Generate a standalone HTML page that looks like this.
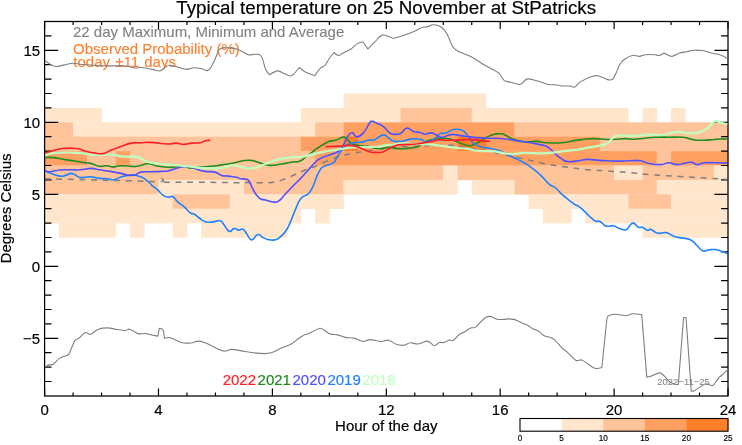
<!DOCTYPE html>
<html><head><meta charset="utf-8"><title>Typical temperature</title>
<style>html,body{margin:0;padding:0;background:#fff;overflow:hidden}body{width:742px;height:445px;position:relative;font-family:"Liberation Sans",sans-serif}</style></head>
<body>
<svg width="742" height="445" viewBox="0 0 742 445" style="display:block;position:absolute;left:0;top:0;will-change:transform" font-family="Liberation Sans, sans-serif">
<rect x="0" y="0" width="742" height="445" fill="#fff"/>
<g>
<rect x="343.59" y="93.50" width="142.68" height="14.70" fill="#FFE6CC"/>
<rect x="44.60" y="107.90" width="57.25" height="14.70" fill="#FFE6CC"/>
<rect x="300.88" y="107.90" width="99.96" height="14.70" fill="#FFE6CC"/>
<rect x="400.54" y="107.90" width="71.49" height="14.70" fill="#FFC499"/>
<rect x="471.72" y="107.90" width="156.91" height="14.70" fill="#FFE6CC"/>
<rect x="642.57" y="107.90" width="14.54" height="14.70" fill="#FFE6CC"/>
<rect x="671.05" y="107.90" width="14.54" height="14.70" fill="#FFE6CC"/>
<rect x="44.60" y="122.30" width="28.77" height="14.70" fill="#FFC499"/>
<rect x="73.08" y="122.30" width="242.34" height="14.70" fill="#FFE6CC"/>
<rect x="315.11" y="122.30" width="28.77" height="14.70" fill="#FFC499"/>
<rect x="343.59" y="122.30" width="171.15" height="14.70" fill="#FFA062"/>
<rect x="514.44" y="122.30" width="213.86" height="14.70" fill="#FFC499"/>
<rect x="44.60" y="136.70" width="256.57" height="14.70" fill="#FFC499"/>
<rect x="300.88" y="136.70" width="43.01" height="14.70" fill="#FFA062"/>
<rect x="343.59" y="136.70" width="14.54" height="14.70" fill="#FF7F2A"/>
<rect x="357.82" y="136.70" width="99.96" height="14.70" fill="#FFA062"/>
<rect x="457.49" y="136.70" width="28.77" height="14.70" fill="#FF7F2A"/>
<rect x="485.96" y="136.70" width="114.20" height="14.70" fill="#FFA062"/>
<rect x="599.86" y="136.70" width="128.44" height="14.70" fill="#FFC499"/>
<rect x="44.60" y="151.10" width="43.01" height="14.70" fill="#FFA062"/>
<rect x="87.31" y="151.10" width="28.77" height="14.70" fill="#FFC499"/>
<rect x="115.79" y="151.10" width="14.54" height="14.70" fill="#FFA062"/>
<rect x="130.03" y="151.10" width="185.39" height="14.70" fill="#FFC499"/>
<rect x="315.11" y="151.10" width="342.00" height="14.70" fill="#FFA062"/>
<rect x="656.81" y="151.10" width="14.54" height="14.70" fill="#FFC499"/>
<rect x="671.05" y="151.10" width="57.25" height="14.70" fill="#FFA062"/>
<rect x="44.60" y="165.50" width="398.95" height="14.70" fill="#FFC499"/>
<rect x="443.25" y="165.50" width="14.54" height="14.70" fill="#FFE6CC"/>
<rect x="457.49" y="165.50" width="156.91" height="14.70" fill="#FFC499"/>
<rect x="614.10" y="165.50" width="28.77" height="14.70" fill="#FFE6CC"/>
<rect x="642.57" y="165.50" width="71.49" height="14.70" fill="#FFC499"/>
<rect x="713.76" y="165.50" width="14.54" height="14.70" fill="#FFE6CC"/>
<rect x="44.60" y="179.90" width="114.20" height="14.70" fill="#FFC499"/>
<rect x="158.50" y="179.90" width="85.72" height="14.70" fill="#FFE6CC"/>
<rect x="243.92" y="179.90" width="99.96" height="14.70" fill="#FFC499"/>
<rect x="343.59" y="179.90" width="114.20" height="14.70" fill="#FFE6CC"/>
<rect x="471.72" y="179.90" width="43.01" height="14.70" fill="#FFE6CC"/>
<rect x="514.44" y="179.90" width="142.68" height="14.70" fill="#FFC499"/>
<rect x="656.81" y="179.90" width="71.49" height="14.70" fill="#FFE6CC"/>
<rect x="44.60" y="194.30" width="128.44" height="14.70" fill="#FFE6CC"/>
<rect x="172.74" y="194.30" width="57.25" height="14.70" fill="#FFC499"/>
<rect x="229.69" y="194.30" width="114.20" height="14.70" fill="#FFE6CC"/>
<rect x="528.67" y="194.30" width="99.96" height="14.70" fill="#FFE6CC"/>
<rect x="628.34" y="194.30" width="43.01" height="14.70" fill="#FFC499"/>
<rect x="671.05" y="194.30" width="57.25" height="14.70" fill="#FFE6CC"/>
<rect x="44.60" y="208.70" width="256.57" height="14.70" fill="#FFE6CC"/>
<rect x="315.11" y="208.70" width="14.54" height="14.70" fill="#FFE6CC"/>
<rect x="542.91" y="208.70" width="28.77" height="14.70" fill="#FFE6CC"/>
<rect x="585.62" y="208.70" width="142.68" height="14.70" fill="#FFE6CC"/>
<rect x="58.84" y="223.10" width="57.25" height="14.70" fill="#FFE6CC"/>
<rect x="130.03" y="223.10" width="14.54" height="14.70" fill="#FFE6CC"/>
<rect x="172.74" y="223.10" width="14.54" height="14.70" fill="#FFE6CC"/>
<rect x="201.21" y="223.10" width="85.72" height="14.70" fill="#FFE6CC"/>
<rect x="642.57" y="223.10" width="85.72" height="14.70" fill="#FFE6CC"/>
</g>
<rect x="44.6" y="21.5" width="683.4" height="374.5" fill="none" stroke="#000" stroke-width="1.25"/>
<path d="M44.60 21.5v7.6M44.60 396.0v-7.6M73.08 21.5v3.5M73.08 396.0v-3.5M101.55 21.5v3.5M101.55 396.0v-3.5M130.03 21.5v3.5M130.03 396.0v-3.5M158.50 21.5v7.6M158.50 396.0v-7.6M186.97 21.5v3.5M186.97 396.0v-3.5M215.45 21.5v3.5M215.45 396.0v-3.5M243.93 21.5v3.5M243.93 396.0v-3.5M272.40 21.5v7.6M272.40 396.0v-7.6M300.88 21.5v3.5M300.88 396.0v-3.5M329.35 21.5v3.5M329.35 396.0v-3.5M357.82 21.5v3.5M357.82 396.0v-3.5M386.30 21.5v7.6M386.30 396.0v-7.6M414.77 21.5v3.5M414.77 396.0v-3.5M443.25 21.5v3.5M443.25 396.0v-3.5M471.73 21.5v3.5M471.73 396.0v-3.5M500.20 21.5v7.6M500.20 396.0v-7.6M528.67 21.5v3.5M528.67 396.0v-3.5M557.15 21.5v3.5M557.15 396.0v-3.5M585.62 21.5v3.5M585.62 396.0v-3.5M614.10 21.5v7.6M614.10 396.0v-7.6M642.58 21.5v3.5M642.58 396.0v-3.5M671.05 21.5v3.5M671.05 396.0v-3.5M699.52 21.5v3.5M699.52 396.0v-3.5M728.00 21.5v7.6M728.00 396.0v-7.6M44.6 381.50h6.9M728.0 381.50h-6.9M44.6 367.10h6.9M728.0 367.10h-6.9M44.6 352.70h6.9M728.0 352.70h-6.9M44.6 338.30h13.6M728.0 338.30h-13.6M44.6 323.90h6.9M728.0 323.90h-6.9M44.6 309.50h6.9M728.0 309.50h-6.9M44.6 295.10h6.9M728.0 295.10h-6.9M44.6 280.70h6.9M728.0 280.70h-6.9M44.6 266.30h13.6M728.0 266.30h-13.6M44.6 251.90h6.9M728.0 251.90h-6.9M44.6 237.50h6.9M728.0 237.50h-6.9M44.6 223.10h6.9M728.0 223.10h-6.9M44.6 208.70h6.9M728.0 208.70h-6.9M44.6 194.30h13.6M728.0 194.30h-13.6M44.6 179.90h6.9M728.0 179.90h-6.9M44.6 165.50h6.9M728.0 165.50h-6.9M44.6 151.10h6.9M728.0 151.10h-6.9M44.6 136.70h6.9M728.0 136.70h-6.9M44.6 122.30h13.6M728.0 122.30h-13.6M44.6 107.90h6.9M728.0 107.90h-6.9M44.6 93.50h6.9M728.0 93.50h-6.9M44.6 79.10h6.9M728.0 79.10h-6.9M44.6 64.70h6.9M728.0 64.70h-6.9M44.6 50.30h13.6M728.0 50.30h-13.6M44.6 35.90h6.9M728.0 35.90h-6.9" stroke="#000" stroke-width="1.2" fill="none"/>
<text transform="translate(386.2 13.8) scale(1 1.012)" font-size="18.8" text-anchor="middle" fill="#000" stroke="#000" stroke-width="0.18">Typical temperature on 25 November at StPatricks</text>
<text transform="translate(44.6 415.0) scale(1 1.012)" font-size="15" text-anchor="middle" fill="#000" stroke="#000" stroke-width="0.18">0</text>
<text transform="translate(158.5 415.0) scale(1 1.012)" font-size="15" text-anchor="middle" fill="#000" stroke="#000" stroke-width="0.18">4</text>
<text transform="translate(272.4 415.0) scale(1 1.012)" font-size="15" text-anchor="middle" fill="#000" stroke="#000" stroke-width="0.18">8</text>
<text transform="translate(386.3 415.0) scale(1 1.012)" font-size="15" text-anchor="middle" fill="#000" stroke="#000" stroke-width="0.18">12</text>
<text transform="translate(500.2 415.0) scale(1 1.012)" font-size="15" text-anchor="middle" fill="#000" stroke="#000" stroke-width="0.18">16</text>
<text transform="translate(614.1 415.0) scale(1 1.012)" font-size="15" text-anchor="middle" fill="#000" stroke="#000" stroke-width="0.18">20</text>
<text transform="translate(728.0 415.0) scale(1 1.012)" font-size="15" text-anchor="middle" fill="#000" stroke="#000" stroke-width="0.18">24</text>
<text transform="translate(40.2 55.6) scale(1 1.012)" font-size="15" text-anchor="end" fill="#000" stroke="#000" stroke-width="0.18">15</text>
<text transform="translate(40.2 127.6) scale(1 1.012)" font-size="15" text-anchor="end" fill="#000" stroke="#000" stroke-width="0.18">10</text>
<text transform="translate(40.2 199.6) scale(1 1.012)" font-size="15" text-anchor="end" fill="#000" stroke="#000" stroke-width="0.18">5</text>
<text transform="translate(40.2 271.6) scale(1 1.012)" font-size="15" text-anchor="end" fill="#000" stroke="#000" stroke-width="0.18">0</text>
<text transform="translate(40.2 343.6) scale(1 1.012)" font-size="15" text-anchor="end" fill="#000" stroke="#000" stroke-width="0.18">−5</text>
<text transform="translate(386.3 431.2) scale(1 1.012)" font-size="15" text-anchor="middle" fill="#000" stroke="#000" stroke-width="0.18">Hour of the day</text>
<text transform="translate(11.2 208.4) rotate(-90) scale(1 1.012)" font-size="15" text-anchor="middle" fill="#000" stroke="#000" stroke-width="0.18">Degrees Celsius</text>
<text transform="translate(73.0 36.8) scale(1 1.012)" font-size="15" fill="#808080" stroke="#808080" stroke-width="0.1">22 day Maximum, Minimum and Average</text>
<text transform="translate(73.1 53.9) scale(1 1.012)" font-size="15" fill="#FF7F2A" stroke="#FF7F2A" stroke-width="0.1">Observed Probability (%)</text>
<text transform="translate(73.3 66.9) scale(1 1.012)" font-size="15" word-spacing="1.1" fill="#FF7F2A" stroke="#FF7F2A" stroke-width="0.1">today ±11 days</text>
<text transform="translate(222.7 385) scale(1 1.012)" font-size="15" fill="#FF1E28" stroke="#FF1E28" stroke-width="0.18">2022</text>
<text transform="translate(257.6 385) scale(1 1.012)" font-size="15" fill="#1E8C1E" stroke="#1E8C1E" stroke-width="0.18">2021</text>
<text transform="translate(292.5 385) scale(1 1.012)" font-size="15" fill="#5050FF" stroke="#5050FF" stroke-width="0.18">2020</text>
<text transform="translate(327.4 385) scale(1 1.012)" font-size="15" fill="#1E82FF" stroke="#1E82FF" stroke-width="0.18">2019</text>
<text transform="translate(362.3 385) scale(1 1.012)" font-size="15" fill="#C0FFC0" stroke="#C0FFC0" stroke-width="0.18">2018</text>
<text transform="translate(657.3 384.6) scale(1 1.012)" font-size="9.4" fill="#808080" textLength="52.5" lengthAdjust="spacing">2022−11−25</text>
<clipPath id="cp"><rect x="45.1" y="21.5" width="682.3" height="374.5"/></clipPath>
<g clip-path="url(#cp)">
<path d="M44.5 60.2C45.4 60.9 48.2 63.3 50.1 64.3C52.0 65.3 54.0 66.4 56.2 66.5C58.4 66.6 61.6 65.4 64.3 64.9C67.0 64.4 69.6 63.3 72.3 63.2C75.0 63.1 77.7 64.0 80.4 64.3C83.1 64.6 89.4 65.0 93.9 65.3C98.4 65.6 102.9 65.9 107.4 65.9C111.9 66.0 118.7 65.6 120.9 65.6C123.1 65.6 125.4 65.9 127.6 66.3C129.8 66.7 132.0 67.7 134.3 67.9C136.6 68.1 139.0 67.3 141.3 67.5C143.6 67.7 150.1 68.9 152.6 69.4C155.1 69.9 158.0 71.3 160.2 70.9C162.4 70.5 164.3 67.6 165.8 66.8C167.3 66.0 168.9 65.2 170.6 65.3C172.3 65.4 176.5 66.9 179.0 67.5C181.5 68.1 184.1 69.4 186.6 69.4C189.1 69.4 191.7 67.8 194.2 67.7C196.7 67.6 199.7 68.3 201.7 68.7C203.7 69.1 205.8 70.8 207.4 70.6C209.0 70.3 210.2 68.6 211.1 67.2C212.0 65.8 213.7 62.2 214.9 59.6C216.1 57.0 217.9 51.4 218.7 50.2C219.5 49.0 221.0 48.2 222.5 47.9C224.0 47.6 227.5 47.7 230.0 47.9C232.5 48.1 235.5 48.6 237.5 49.2C239.5 49.8 241.3 51.2 243.2 52.1C245.1 53.0 247.1 54.5 248.9 54.9C250.7 55.3 252.6 54.3 254.5 54.3C256.4 54.3 258.8 53.9 260.2 54.9C261.6 55.9 262.2 58.3 262.9 60.1C263.6 61.9 264.8 67.7 265.7 69.6C266.6 71.5 269.4 74.7 269.4 74.7C269.4 74.7 275.5 71.0 277.9 70.9C280.3 70.8 282.6 73.0 284.5 73.8C286.4 74.6 288.7 76.0 290.2 76.0C291.7 76.0 292.9 74.8 294.0 73.8C295.1 72.8 299.2 67.5 299.2 67.5C299.2 67.5 303.5 70.9 305.3 71.9C307.1 72.9 309.6 73.8 310.9 74.3C312.2 74.8 314.7 75.7 314.7 75.7C314.7 75.7 319.1 69.4 320.4 68.1C321.7 66.8 323.9 66.7 325.1 65.3C326.3 63.9 328.5 59.5 329.8 57.7C331.1 55.9 334.0 52.5 334.0 52.5C334.0 52.5 336.8 55.4 338.3 55.5C339.8 55.6 341.4 53.8 343.0 53.0C344.6 52.2 348.2 50.8 350.6 49.2C353.0 47.6 355.5 44.6 357.2 43.6C358.9 42.6 362.8 41.7 362.8 41.7C362.8 41.7 367.9 48.9 367.9 48.9C367.9 48.9 372.7 44.0 375.1 41.7C377.5 39.4 379.5 35.7 382.3 35.1C385.1 34.5 391.5 37.7 392.1 37.9C392.7 38.1 393.2 38.4 393.8 38.3C394.4 38.2 400.1 36.5 403.2 35.5C406.3 34.5 411.9 32.4 414.5 31.3C417.1 30.2 420.3 28.1 422.1 27.5C423.9 26.9 426.0 27.0 427.7 26.6C429.4 26.2 430.8 24.8 432.5 24.7C434.2 24.6 437.1 25.1 439.1 26.0C441.1 26.9 443.2 28.6 444.7 30.4C446.2 32.2 447.4 34.7 448.5 37.0C449.6 39.3 451.6 45.2 453.2 47.4C454.8 49.6 457.4 50.8 459.8 52.1C462.2 53.4 467.5 54.9 471.1 56.8C474.7 58.7 479.8 62.3 484.3 64.9C488.8 67.5 496.0 70.9 498.5 72.8C501.0 74.7 502.4 79.0 504.2 80.4C506.0 81.8 508.6 81.7 510.8 82.3C513.0 82.9 518.2 84.4 519.2 84.5C520.2 84.6 521.2 84.1 522.0 83.5C522.8 82.9 525.1 79.3 527.5 78.9C529.9 78.5 533.9 80.0 537.0 80.8C540.1 81.6 546.1 84.0 548.3 84.5C550.5 85.0 552.7 84.5 554.9 84.7C557.1 84.9 560.0 85.8 562.5 86.0C565.0 86.2 568.4 85.9 570.0 86.0C571.6 86.1 573.2 87.6 574.7 87.0C576.2 86.4 578.2 83.2 580.4 81.9C582.6 80.6 589.6 77.3 591.7 76.6C593.8 75.9 596.1 75.3 598.3 75.7C600.5 76.1 605.0 78.9 606.8 79.4C608.6 79.9 610.9 80.5 612.4 79.4C613.9 78.3 615.1 75.1 616.2 72.8C617.3 70.5 618.7 66.3 619.9 64.3C621.1 62.3 622.7 60.5 624.6 59.2C626.5 57.9 631.0 55.7 633.1 55.3C635.2 54.9 637.2 56.5 639.3 56.4C641.3 56.3 643.3 54.9 645.4 54.7C647.5 54.5 653.2 54.6 654.8 54.7C656.4 54.8 657.9 55.7 659.5 55.5C661.1 55.3 662.6 53.3 664.3 53.4C666.0 53.5 669.3 56.5 671.8 56.4C674.3 56.3 677.0 53.8 679.4 53.0C681.8 52.2 684.4 52.2 686.9 51.7C689.4 51.2 691.9 50.3 694.5 50.2C697.1 50.1 701.3 50.4 703.9 50.8C706.5 51.2 708.9 52.4 711.4 53.0C713.9 53.6 717.1 53.9 719.0 54.5C720.9 55.1 723.4 56.2 724.6 56.8C725.8 57.4 727.4 58.7 728.0 59.1" fill="none" stroke="#7f7f7f" stroke-width="1.1" stroke-linejoin="round" stroke-linecap="butt" />
<path d="M44.7 367.0C45.3 366.7 47.2 365.5 48.5 365.1C49.8 364.7 51.8 365.0 53.2 364.2C54.6 363.4 57.3 359.7 59.8 358.1C62.3 356.5 66.7 356.0 68.3 354.7C69.9 353.4 70.2 351.0 71.1 349.1C72.0 347.2 73.8 342.1 74.9 340.6C76.0 339.1 78.1 338.8 79.6 337.7C81.1 336.6 83.5 333.0 85.3 332.5C87.1 332.0 88.8 335.0 90.6 334.5C92.4 334.0 95.6 330.3 98.5 329.2C101.4 328.1 105.3 327.9 107.9 327.9C110.5 327.9 113.0 328.8 115.5 329.2C118.0 329.6 123.3 330.6 124.9 330.6C126.5 330.6 128.0 328.8 129.6 329.2C131.2 329.6 135.7 332.9 138.1 333.6C140.5 334.3 143.2 333.3 145.7 333.6C148.2 333.9 151.6 335.0 153.2 335.3C154.8 335.6 157.9 336.2 157.9 336.2C157.9 336.2 159.2 328.3 159.2 328.3C159.2 328.3 162.4 328.6 163.0 329.8C163.6 331.0 164.5 338.3 164.5 338.3C164.5 338.3 168.3 337.2 170.2 337.7C172.1 338.2 178.2 341.7 181.3 342.5C184.4 343.3 188.2 343.2 190.8 343.0C193.4 342.8 195.8 341.1 198.3 341.1C200.8 341.1 203.4 342.0 205.8 343.0C208.2 344.0 214.8 347.6 217.2 348.7C219.6 349.8 222.4 351.2 224.7 351.3C227.0 351.4 229.0 349.5 231.3 349.4C233.6 349.3 238.6 350.4 241.7 350.9C244.8 351.4 247.9 352.1 251.1 352.5C254.3 352.9 261.7 353.6 264.3 353.6C266.9 353.6 269.5 353.3 271.9 352.5C274.3 351.7 278.2 349.5 281.3 348.1C284.4 346.7 288.1 345.8 290.8 344.3C293.5 342.8 296.2 340.2 298.3 338.7C300.4 337.2 304.1 334.9 304.9 334.5C305.7 334.1 306.7 334.3 307.5 334.0C308.3 333.7 318.5 328.6 319.8 328.3C321.1 328.0 322.4 329.1 323.6 329.8C324.8 330.5 327.9 333.1 330.2 334.0C332.5 334.9 335.2 334.3 337.7 334.9C340.2 335.5 342.7 336.9 345.3 337.4C347.9 337.9 351.0 337.5 353.8 338.1C356.6 338.7 360.9 341.3 363.2 341.5C365.5 341.7 367.5 339.6 369.8 339.6C372.1 339.6 378.5 341.4 381.1 341.5C383.7 341.6 386.2 339.7 388.7 340.2C391.2 340.7 393.8 343.5 396.2 344.3C398.6 345.1 401.5 345.5 403.8 345.3C406.1 345.1 408.1 343.0 410.4 342.8C412.7 342.6 415.4 344.3 417.9 344.0C420.4 343.7 425.1 341.3 426.4 341.1C427.7 340.9 429.0 341.8 430.2 342.5C431.4 343.2 433.0 345.7 434.5 345.7C436.0 345.7 437.9 343.0 439.4 342.5C440.9 342.0 442.6 342.9 444.2 342.5C445.8 342.1 447.4 340.6 448.9 340.2C450.4 339.8 452.2 341.0 453.6 340.2C455.0 339.4 457.5 335.8 459.2 334.5C460.9 333.2 463.1 332.8 464.9 331.7C466.7 330.6 469.1 328.5 470.6 327.9C472.1 327.3 474.0 328.2 475.3 327.4C476.6 326.6 479.4 323.2 480.9 321.7C482.4 320.2 484.3 318.3 485.7 317.5C487.1 316.7 488.8 316.2 490.4 316.4C492.0 316.6 494.9 318.7 497.0 319.2C499.1 319.7 502.0 319.4 503.6 319.4C505.2 319.4 506.7 318.9 508.3 318.9C509.9 318.9 512.2 318.9 514.0 319.4C515.8 319.9 518.4 321.4 520.6 322.3C522.8 323.2 525.2 324.1 527.2 325.1C529.2 326.1 531.0 327.7 532.8 328.7C534.6 329.7 536.8 330.0 538.5 331.1C540.2 332.2 542.5 334.9 544.2 335.8C545.9 336.7 548.1 336.6 549.8 337.2C551.5 337.8 553.2 338.4 554.5 339.6C555.8 340.8 560.7 346.7 562.1 348.1C563.5 349.5 565.3 350.3 566.7 351.6C568.1 352.9 574.3 359.5 576.0 360.4C577.7 361.3 579.9 359.4 581.7 360.0C583.5 360.6 586.1 362.8 588.3 364.2C590.5 365.6 592.6 367.8 594.9 368.3C597.2 368.9 601.9 367.5 601.9 367.5C601.9 367.5 606.6 320.2 607.2 317.5C607.8 314.8 612.0 314.5 614.7 314.2C617.4 313.9 623.7 315.8 626.0 315.7C628.3 315.6 630.3 314.0 632.6 313.8C634.9 313.6 641.7 314.5 641.7 314.5C641.7 314.5 646.8 377.1 646.8 377.1C646.8 377.1 649.3 376.7 650.5 376.3C651.7 375.9 657.7 373.0 659.4 372.9C661.1 372.8 662.6 374.4 663.9 375.6C665.2 376.8 667.4 380.2 669.1 381.5C670.8 382.8 673.9 383.9 675.0 384.2C676.1 384.5 678.3 384.5 678.3 384.5C678.3 384.5 683.6 317.5 683.6 317.5C683.6 317.5 686.0 317.5 686.0 317.5C686.0 317.5 691.3 391.2 691.3 391.2C691.3 391.2 693.4 391.2 694.3 390.7C695.2 390.2 700.3 386.8 701.7 386.0C703.1 385.2 704.4 383.7 706.1 383.7C707.8 383.7 710.8 385.8 712.1 385.7C713.4 385.6 714.1 384.0 715.0 383.0C715.9 382.0 718.2 378.5 719.5 377.1C720.8 375.7 722.5 374.7 723.9 373.4C725.3 372.1 727.4 370.1 728.1 369.4" fill="none" stroke="#7f7f7f" stroke-width="1.1" stroke-linejoin="round" stroke-linecap="butt" />
<path d="M44.7 178.8C53.8 179.0 72.9 179.4 90.0 179.8C107.1 180.2 115.9 180.4 130.0 180.8C144.1 181.2 154.2 182.1 160.5 181.6C166.8 181.1 161.1 178.3 161.7 178.4C162.3 178.5 161.8 181.1 163.5 181.9C165.2 182.7 158.7 182.1 170.0 182.2C181.3 182.3 207.3 182.3 220.0 182.4C232.7 182.5 228.1 182.8 233.5 182.8C238.9 182.8 241.6 182.4 247.0 182.4C252.4 182.4 255.0 182.8 260.4 182.8C265.8 182.8 269.3 182.9 273.9 182.2C278.5 181.5 279.3 180.9 283.3 179.5C287.3 178.1 290.0 176.8 294.1 175.0C298.2 173.2 299.6 172.4 303.6 170.7C307.6 169.0 310.3 168.3 314.3 166.7C318.3 165.1 319.0 164.4 323.5 162.5C328.0 160.6 331.6 158.8 337.0 157.1C342.4 155.4 345.0 154.9 350.4 153.8C355.8 152.7 359.0 152.3 363.9 151.5C368.8 150.7 369.3 150.5 374.7 149.7C380.1 148.9 383.8 148.4 390.9 147.7C398.0 147.0 402.8 146.8 410.0 146.4C417.2 146.0 418.8 145.9 427.0 145.7C435.2 145.5 443.0 144.9 451.0 145.3C459.0 145.7 461.0 146.8 467.0 147.7C473.0 148.6 475.6 149.0 481.0 150.0C486.4 151.0 486.3 151.0 494.0 152.6C501.7 154.2 509.6 155.8 519.6 158.0C529.6 160.2 534.7 161.6 543.9 163.4C553.1 165.2 556.3 165.7 565.5 167.0C574.7 168.3 581.7 169.1 590.0 169.9C598.3 170.7 598.2 170.3 607.0 170.9C615.8 171.5 625.3 172.3 633.9 173.0C642.5 173.7 640.9 173.9 650.1 174.6C659.3 175.3 668.0 175.8 680.0 176.5C692.0 177.2 700.4 177.7 710.0 178.3C719.6 178.9 724.4 179.2 728.0 179.4" fill="none" stroke="#7f7f7f" stroke-width="1.5" stroke-linejoin="round" stroke-linecap="butt" stroke-dasharray="5.8 5.8"/>
<path d="M44.7 157.6C47.0 157.6 47.6 157.0 53.5 157.6C59.4 158.2 59.8 158.7 67.0 159.9C74.2 161.1 73.9 161.0 80.4 162.0C86.9 163.0 86.2 162.5 91.2 163.6C96.2 164.7 95.0 165.7 99.3 166.3C103.6 166.9 103.8 165.5 107.4 165.7C111.0 165.9 109.2 166.9 112.8 166.9C116.4 166.9 115.9 165.8 120.9 165.7C125.9 165.6 127.4 166.2 131.6 166.4C135.8 166.6 133.5 166.8 136.7 166.3C139.9 165.8 140.2 165.3 143.5 164.6C146.8 163.9 145.3 163.3 148.9 163.7C152.5 164.1 151.9 165.0 156.9 166.0C161.9 167.0 162.3 167.1 167.7 167.3C173.1 167.5 172.9 167.0 177.2 166.7C181.5 166.4 180.3 166.0 183.9 166.3C187.5 166.6 187.0 167.8 190.6 168.0C194.2 168.2 193.8 167.4 197.4 167.1C201.0 166.8 199.8 167.0 204.1 166.7C208.4 166.4 208.9 166.5 213.6 166.0C218.3 165.5 216.3 165.7 221.6 164.9C226.9 164.1 226.4 164.2 233.5 163.0C240.6 161.8 241.5 160.4 248.3 160.3C255.1 160.2 253.7 161.3 259.1 162.6C264.5 163.9 262.4 164.9 268.5 165.3C274.6 165.7 275.5 164.9 282.0 164.0C288.5 163.1 288.1 162.7 292.8 162.0C297.5 161.3 295.9 162.7 299.5 161.3C303.1 159.9 302.4 159.5 306.3 156.6C310.2 153.7 311.2 152.9 314.3 150.5C317.4 148.1 314.2 150.1 318.1 147.7C322.0 145.3 324.2 143.6 328.9 141.6C333.6 139.6 332.0 141.4 335.6 140.3C339.2 139.2 339.6 137.9 342.3 137.3C345.0 136.7 343.9 136.8 345.7 137.9C347.5 139.0 347.1 139.7 349.1 141.4C351.1 143.1 349.9 143.2 353.1 144.3C356.3 145.4 356.9 145.1 361.2 145.7C365.5 146.3 365.7 145.8 369.3 146.4C372.9 147.0 371.1 147.6 374.7 148.1C378.3 148.6 379.2 148.6 382.8 148.4C386.4 148.2 385.3 147.4 388.2 147.3C391.1 147.2 390.0 147.7 393.6 148.1C397.2 148.5 397.7 148.7 401.6 148.7C405.5 148.7 404.2 148.5 408.1 148.1C412.0 147.7 412.6 148.3 416.2 147.3C419.8 146.3 418.7 146.0 421.6 144.3C424.5 142.6 423.4 142.4 427.0 141.0C430.6 139.6 431.1 139.7 435.0 139.0C438.9 138.3 437.8 138.3 441.8 138.3C445.8 138.3 446.0 138.1 449.9 139.0C453.8 139.9 453.0 140.2 456.6 141.6C460.2 143.0 459.7 143.2 463.3 144.3C466.9 145.4 466.8 145.9 470.1 145.7C473.4 145.5 472.6 145.0 475.5 143.7C478.4 142.4 477.7 142.8 480.9 141.0C484.1 139.2 484.0 138.7 487.6 136.9C491.2 135.1 490.8 135.0 494.3 134.2C497.8 133.4 497.6 133.5 500.8 133.8C504.0 134.1 503.3 134.2 506.2 135.5C509.1 136.8 507.7 137.0 511.6 138.5C515.5 140.0 516.3 140.3 521.0 141.2C525.7 142.1 524.8 141.7 529.1 141.8C533.4 141.9 532.5 141.1 537.2 141.4C541.9 141.7 540.1 142.4 546.6 142.8C553.1 143.2 554.9 143.2 561.4 142.8C567.9 142.4 565.5 142.1 570.9 141.2C576.3 140.3 575.6 140.3 581.6 139.6C587.6 138.9 586.7 138.6 593.5 138.6C600.3 138.6 601.3 139.3 607.0 139.5C612.7 139.7 610.0 139.5 615.0 139.3C620.0 139.1 620.8 138.6 625.8 138.6C630.8 138.6 628.9 139.4 633.9 139.3C638.9 139.2 638.9 138.8 644.7 138.2C650.5 137.6 649.0 137.5 655.5 137.2C662.0 136.9 661.8 137.2 669.0 137.2C676.2 137.2 677.0 136.8 682.4 137.2C687.8 137.6 685.9 137.9 689.2 138.6C692.5 139.3 691.0 139.5 694.6 139.9C698.2 140.3 697.9 140.3 702.6 140.2C707.3 140.1 707.4 140.0 712.1 139.7C716.8 139.4 716.0 139.2 720.2 139.0C724.4 138.8 725.7 139.0 727.7 139.0" fill="none" stroke="#1E8C1E" stroke-width="1.6" stroke-linejoin="round" stroke-linecap="butt" />
<path d="M44.7 170.7C46.7 171.5 48.0 172.4 52.1 173.8C56.2 175.2 56.6 175.7 60.2 176.1C63.8 176.5 62.7 176.1 65.6 175.4C68.5 174.7 68.5 173.6 71.0 173.4C73.5 173.2 72.5 173.7 75.0 174.8C77.5 175.9 76.4 177.0 80.4 177.5C84.4 178.0 84.9 176.6 89.9 176.8C94.9 177.0 94.6 177.9 99.3 178.4C104.0 178.9 103.5 178.5 107.4 178.8C111.3 179.1 110.5 180.2 114.1 179.7C117.7 179.2 117.3 178.1 120.9 177.0C124.5 175.9 124.0 175.9 127.6 175.4C131.2 174.9 131.5 175.0 134.3 175.2C137.1 175.4 135.5 175.2 138.0 176.0C140.5 176.8 140.2 176.1 143.5 178.1C146.8 180.1 147.9 181.5 150.2 183.5C152.5 185.5 150.2 184.0 152.1 185.7C154.0 187.4 154.6 187.2 157.5 189.7C160.4 192.2 160.0 193.1 162.9 195.1C165.8 197.1 165.6 196.7 168.3 197.1C171.0 197.5 170.5 195.4 173.0 196.7C175.5 198.0 174.6 199.0 177.7 201.8C180.8 204.6 181.1 204.2 184.5 207.2C187.9 210.2 188.0 211.2 190.5 213.0C193.0 214.8 191.6 212.7 193.9 214.0C196.2 215.3 196.4 216.0 199.3 218.0C202.2 220.0 201.8 220.3 204.7 221.4C207.6 222.5 207.2 222.3 210.1 222.3C213.0 222.3 212.8 221.8 215.5 221.4C218.2 221.0 218.0 219.9 220.2 220.7C222.4 221.5 221.4 221.6 223.8 224.4C226.2 227.2 226.5 230.2 229.2 231.3C231.9 232.4 231.4 228.9 234.0 228.6C236.6 228.3 236.5 229.9 238.9 230.1C241.3 230.3 240.7 228.1 242.9 229.2C245.1 230.3 244.7 231.3 247.0 234.2C249.3 237.1 248.8 239.8 251.7 239.9C254.6 240.0 254.7 235.1 257.7 234.5C260.7 233.9 260.2 236.2 263.1 237.6C266.0 239.0 265.4 239.0 268.5 239.6C271.6 240.2 271.7 240.4 274.6 239.9C277.5 239.4 276.4 239.8 279.3 237.6C282.2 235.4 282.5 235.5 285.4 231.5C288.3 227.5 287.4 228.6 290.1 222.7C292.8 216.8 292.6 215.8 295.5 209.3C298.4 202.8 297.7 202.5 300.9 198.5C304.1 194.5 304.7 196.9 307.6 194.4C310.5 191.9 309.9 191.8 311.6 189.0C313.3 186.2 312.6 187.5 314.0 184.0C315.4 180.5 315.5 179.5 317.0 176.0C318.5 172.5 317.8 173.5 319.5 171.0C321.2 168.5 319.9 168.7 323.5 166.6C327.1 164.5 329.5 165.4 332.9 163.2C336.3 161.0 334.1 161.7 336.3 158.5C338.5 155.3 338.3 154.5 341.0 151.1C343.7 147.7 343.2 147.9 346.4 145.7C349.6 143.5 349.2 143.6 353.1 142.7C357.0 141.8 357.2 142.9 361.2 142.3C365.2 141.7 364.6 140.9 368.0 140.3C371.4 139.7 370.8 141.1 374.0 140.0C377.2 138.9 377.4 137.7 380.1 136.3C382.8 134.9 381.9 134.6 384.1 134.9C386.3 135.2 385.7 136.0 388.2 137.6C390.7 139.2 390.0 140.0 393.6 141.0C397.2 142.0 397.7 141.6 401.6 141.2C405.5 140.8 404.6 140.3 408.1 139.6C411.6 138.9 411.2 138.7 414.8 138.7C418.4 138.7 418.7 138.7 421.6 139.6C424.5 140.5 423.5 141.5 425.6 141.9C427.7 142.3 427.1 142.0 429.6 141.0C432.1 140.0 432.1 140.3 435.0 138.3C437.9 136.3 437.5 135.0 440.4 133.6C443.3 132.2 442.2 134.0 445.8 132.9C449.4 131.8 449.6 130.2 453.9 129.5C458.2 128.8 458.8 129.1 462.0 130.2C465.2 131.3 463.8 131.3 466.0 133.6C468.2 135.9 467.9 136.3 470.1 139.0C472.3 141.7 471.2 141.6 474.1 143.7C477.0 145.8 476.9 145.8 480.9 147.0C484.9 148.2 484.4 147.3 489.0 148.2C493.6 149.1 493.5 148.8 498.1 150.3C502.7 151.8 502.3 152.1 506.2 154.0C510.1 155.9 508.6 155.2 512.9 157.3C517.2 159.4 517.6 159.2 522.3 161.7C527.0 164.2 526.4 164.0 530.4 166.8C534.4 169.6 533.6 169.1 537.2 172.2C540.8 175.3 540.6 175.2 543.9 178.5C547.2 181.8 546.1 181.7 549.4 184.4C552.7 187.1 552.6 185.6 556.2 188.5C559.8 191.4 559.3 192.0 562.9 195.2C566.5 198.4 566.4 198.1 569.6 200.6C572.8 203.1 572.5 203.0 575.0 204.6C577.5 206.2 576.2 204.5 579.1 206.7C582.0 208.9 582.6 209.7 585.8 212.7C589.0 215.7 588.7 215.7 591.2 217.9C593.7 220.1 593.0 220.1 595.3 221.1C597.6 222.1 597.5 220.3 600.0 221.5C602.5 222.7 602.4 224.2 604.7 225.5C607.0 226.8 606.4 226.1 608.7 226.2C611.0 226.3 610.6 225.2 613.5 225.8C616.4 226.4 616.3 227.4 619.5 228.5C622.7 229.6 623.1 230.3 625.6 229.9C628.1 229.5 626.9 228.7 628.9 226.9C630.9 225.1 630.7 223.0 633.2 223.1C635.7 223.2 635.9 226.1 638.3 227.2C640.7 228.3 639.7 226.4 642.1 227.2C644.5 228.0 645.0 229.6 647.4 230.2C649.8 230.8 648.3 228.7 651.1 229.5C653.9 230.3 653.9 232.4 657.9 233.2C661.9 234.0 662.0 231.8 666.2 232.6C670.4 233.4 669.8 234.8 673.8 236.2C677.8 237.6 676.9 237.0 681.3 237.9C685.7 238.8 686.4 237.8 690.4 239.7C694.4 241.6 693.2 242.1 696.4 245.0C699.6 247.9 699.3 249.4 702.5 250.7C705.7 252.0 705.3 250.3 708.5 250.0C711.7 249.7 711.3 249.2 714.5 249.5C717.7 249.8 717.8 250.2 720.6 251.0C723.4 251.8 723.2 251.6 725.1 252.5C727.0 253.4 727.1 254.0 727.8 254.5" fill="none" stroke="#1E82FF" stroke-width="1.6" stroke-linejoin="round" stroke-linecap="butt" />
<path d="M44.7 170.7C46.0 171.0 45.3 171.9 49.4 171.7C53.5 171.5 54.4 170.5 60.2 170.0C66.0 169.5 65.6 169.9 71.0 169.8C76.4 169.7 75.0 170.2 80.4 169.8C85.8 169.4 86.2 168.4 91.2 168.4C96.2 168.4 94.3 169.0 99.3 169.8C104.3 170.6 104.3 170.4 110.1 171.4C115.9 172.4 115.9 172.4 120.9 173.4C125.9 174.4 125.0 174.8 128.9 175.2C132.8 175.6 132.2 175.6 135.4 174.8C138.6 174.0 136.9 172.9 140.8 172.1C144.7 171.3 144.8 171.9 150.2 171.7C155.6 171.5 156.0 171.7 161.0 171.4C166.0 171.1 165.2 171.5 169.1 170.7C173.0 169.9 171.9 169.5 175.8 168.4C179.7 167.3 180.0 167.1 183.9 166.7C187.8 166.3 187.0 166.2 190.6 166.9C194.2 167.6 193.4 168.2 197.4 169.4C201.4 170.6 200.8 170.7 205.5 171.4C210.2 172.1 210.6 171.0 214.9 172.1C219.2 173.2 218.1 174.3 221.6 175.4C225.1 176.5 223.9 175.5 228.1 176.1C232.3 176.7 234.3 176.8 237.5 177.5C240.7 178.2 237.9 178.3 240.2 178.8C242.5 179.3 243.8 178.3 246.3 179.2C248.8 180.1 247.7 179.3 249.6 182.2C251.5 185.1 250.9 185.8 253.4 190.0C255.9 194.2 255.8 195.1 259.1 197.8C262.4 200.5 261.9 199.0 265.8 200.1C269.7 201.2 270.3 202.0 273.9 202.1C277.5 202.2 276.4 202.4 279.3 200.5C282.2 198.6 281.1 198.6 284.7 194.8C288.3 191.0 288.5 190.7 292.8 186.2C297.1 181.7 297.0 182.2 300.9 178.1C304.8 174.0 304.0 174.6 307.6 170.7C311.2 166.8 311.5 166.2 314.3 163.3C317.1 160.4 315.5 161.5 318.0 159.8C320.5 158.1 319.5 158.7 323.5 157.1C327.5 155.5 328.6 155.6 332.9 153.8C337.2 152.0 336.7 152.9 339.6 150.4C342.5 147.9 341.4 148.2 343.7 144.3C346.0 140.4 346.1 138.6 348.4 135.6C350.7 132.6 350.2 132.6 352.5 132.9C354.8 133.2 354.2 137.1 357.2 136.9C360.2 136.7 360.7 135.8 363.9 132.2C367.1 128.6 367.1 126.4 369.3 123.5C371.5 120.6 369.8 121.4 372.0 121.4C374.2 121.4 374.5 122.2 377.4 123.5C380.3 124.8 379.9 124.1 382.8 126.2C385.7 128.3 385.7 129.4 388.2 131.5C390.7 133.6 389.0 133.5 392.2 134.0C395.4 134.5 396.4 134.9 400.3 133.4C404.2 131.9 403.2 128.7 406.7 128.2C410.2 127.7 409.9 130.4 413.5 131.5C417.1 132.6 417.2 131.8 420.2 132.5C423.2 133.2 422.0 134.1 424.9 134.2C427.8 134.3 427.9 132.7 431.0 132.9C434.1 133.1 433.5 133.7 436.4 134.9C439.3 136.1 437.9 137.4 441.8 137.3C445.7 137.2 446.2 135.1 451.2 134.6C456.2 134.1 455.6 135.0 460.6 135.6C465.6 136.2 464.7 136.3 470.1 136.9C475.5 137.5 475.2 137.5 480.9 137.9C486.6 138.3 485.6 138.1 491.6 138.3C497.6 138.5 496.7 138.0 503.5 138.7C510.3 139.4 509.8 139.8 517.0 140.9C524.2 142.0 523.9 141.7 530.4 142.8C536.9 143.9 536.5 143.7 541.2 144.9C545.9 146.1 544.4 145.0 548.0 147.2C551.6 149.4 551.1 150.2 554.7 153.3C558.3 156.4 558.2 156.5 561.4 158.7C564.6 160.9 563.5 160.7 566.8 161.4C570.1 162.1 569.7 161.7 573.6 161.4C577.5 161.1 578.0 160.8 581.6 160.3C585.2 159.8 583.1 159.5 587.0 159.4C590.9 159.3 590.9 159.7 596.2 160.1C601.5 160.5 600.5 160.5 607.0 160.8C613.5 161.1 613.2 161.2 620.4 161.1C627.6 161.0 628.5 160.7 633.9 160.6C639.3 160.5 636.3 160.0 640.6 160.8C644.9 161.6 644.7 162.7 650.1 163.7C655.5 164.7 655.9 164.8 660.9 164.6C665.9 164.4 664.7 162.8 669.0 162.8C673.3 162.8 672.7 164.5 677.0 164.6C681.3 164.7 681.1 163.8 685.1 163.2C689.1 162.6 688.6 162.0 691.9 162.4C695.2 162.8 694.1 164.5 697.3 164.6C700.5 164.7 699.3 163.3 704.0 162.8C708.7 162.3 708.5 162.7 714.8 162.8C721.1 162.9 724.3 163.0 727.7 163.1" fill="none" stroke="#5050FF" stroke-width="1.6" stroke-linejoin="round" stroke-linecap="butt" />
<path d="M44.7 155.2C47.0 154.7 47.6 153.9 53.5 153.2C59.4 152.5 59.8 152.5 67.0 152.5C74.2 152.5 73.2 152.6 80.4 153.2C87.6 153.8 86.7 154.6 93.9 154.9C101.1 155.2 101.6 154.4 107.4 154.5C113.2 154.6 111.2 154.6 115.5 155.2C119.8 155.8 117.9 156.2 123.6 156.6C129.3 157.0 131.4 155.9 136.7 156.8C142.0 157.7 139.9 158.4 143.5 159.9C147.1 161.4 144.8 161.5 150.2 162.6C155.6 163.7 156.5 163.3 163.7 164.0C170.9 164.7 170.0 164.6 177.2 165.3C184.4 166.0 183.4 166.0 190.6 166.7C197.8 167.4 196.9 167.5 204.1 168.0C211.3 168.5 212.2 168.6 217.6 168.4C223.0 168.2 221.5 167.9 224.3 167.3C227.1 166.7 225.6 166.8 228.1 166.3C230.6 165.8 229.6 165.0 233.5 165.3C237.4 165.6 237.9 166.5 242.9 167.3C247.9 168.1 248.0 168.5 252.3 168.3C256.6 168.1 255.1 168.0 259.1 166.7C263.1 165.4 261.5 165.4 267.2 163.3C272.9 161.2 273.4 160.5 280.6 158.9C287.8 157.3 288.0 157.8 294.1 157.2C300.2 156.6 298.2 157.5 303.6 156.6C309.0 155.7 309.0 155.2 314.3 153.9C319.6 152.6 317.4 152.9 323.5 151.8C329.6 150.7 329.8 150.8 337.0 149.7C344.2 148.6 343.2 148.4 350.4 147.7C357.6 147.0 356.7 147.2 363.9 147.0C371.1 146.8 371.6 147.2 377.4 146.8C383.2 146.4 380.5 146.1 385.5 145.4C390.5 144.7 391.1 144.7 396.3 144.1C401.5 143.5 400.4 143.0 405.0 143.0C409.6 143.0 407.6 143.8 413.5 144.1C419.4 144.4 419.8 143.9 427.0 144.3C434.2 144.7 433.2 144.8 440.4 145.7C447.6 146.6 446.7 146.9 453.9 147.7C461.1 148.5 461.3 148.0 467.4 148.8C473.5 149.6 471.4 150.1 476.8 150.7C482.2 151.3 482.9 150.9 487.6 151.1C492.3 151.3 490.8 151.0 494.3 151.4C497.8 151.8 496.2 151.9 500.8 152.6C505.4 153.3 505.1 153.9 511.6 154.0C518.1 154.1 517.1 153.1 525.0 152.9C532.9 152.7 533.3 153.4 541.2 153.3C549.1 153.2 547.5 153.1 554.7 152.4C561.9 151.7 561.7 151.4 568.2 150.6C574.7 149.8 573.0 150.2 579.0 149.3C585.0 148.4 584.8 148.2 590.8 147.1C596.8 146.0 596.9 146.5 601.6 145.3C606.3 144.1 605.1 144.8 608.3 142.6C611.5 140.4 610.8 139.1 613.7 137.2C616.6 135.3 615.2 135.8 619.1 135.5C623.0 135.2 623.1 135.9 628.5 135.9C633.9 135.9 633.5 135.9 639.3 135.5C645.1 135.1 644.3 134.4 650.1 134.3C655.9 134.2 655.9 135.4 660.9 135.2C665.9 135.0 664.3 134.4 669.0 133.5C673.7 132.6 673.4 131.9 678.4 131.8C683.4 131.7 683.1 132.9 687.8 133.2C692.5 133.5 692.0 133.5 695.9 132.9C699.8 132.3 699.4 132.3 702.6 130.9C705.8 129.5 705.5 129.9 708.0 127.8C710.5 125.7 710.1 124.8 712.1 123.1C714.1 121.4 713.0 121.4 715.5 121.3C718.0 121.2 718.2 121.9 721.5 122.7C724.8 123.5 726.0 123.9 727.7 124.4" fill="none" stroke="#C0FFC0" stroke-width="2.2" stroke-linejoin="round" stroke-linecap="butt" />
<path d="M44.7 153.2C47.0 152.5 48.6 151.8 53.5 150.5C58.4 149.2 56.8 149.0 62.9 148.5C69.0 148.0 70.3 147.8 76.4 148.5C82.5 149.2 81.1 150.0 85.8 151.2C90.5 152.4 89.2 152.3 93.9 152.9C98.6 153.5 99.0 154.2 103.3 153.6C107.6 153.0 105.4 152.4 110.1 150.5C114.8 148.6 115.2 148.5 120.9 146.5C126.6 144.5 126.3 144.1 131.6 143.1C136.9 142.1 135.8 143.0 140.8 142.8C145.8 142.6 143.0 142.1 150.2 142.4C157.4 142.7 160.9 143.8 167.7 144.0C174.5 144.2 171.5 143.0 175.8 143.1C180.1 143.2 179.6 144.2 183.9 144.2C188.2 144.2 187.7 143.5 192.0 143.1C196.3 142.7 196.5 143.4 200.1 142.8C203.7 142.2 202.8 141.3 205.5 140.7C208.2 140.1 208.9 140.5 210.2 140.4" fill="none" stroke="#FF1E28" stroke-width="1.6" stroke-linejoin="round" stroke-linecap="butt" />
<path d="M325.5 146.6C328.6 146.5 331.1 146.7 337.0 146.4C342.9 146.1 342.7 145.3 347.7 145.3C352.7 145.3 351.5 145.3 355.8 146.4C360.1 147.5 360.3 148.1 363.9 149.5C367.5 150.9 366.1 151.0 369.3 151.8C372.5 152.6 372.4 152.3 376.0 152.4C379.6 152.5 379.5 152.9 382.8 152.0C386.1 151.1 385.0 150.8 388.2 149.1C391.4 147.4 391.3 146.9 394.9 145.7C398.5 144.5 396.6 145.0 401.6 144.6C406.6 144.2 408.2 144.6 413.5 144.3C418.8 144.0 416.9 144.0 421.6 143.3C426.3 142.6 426.3 142.5 431.0 141.6C435.7 140.7 434.4 140.2 439.1 139.9C443.8 139.6 442.8 140.3 448.5 140.3C454.2 140.3 454.8 140.1 460.6 139.9C466.4 139.7 464.7 139.4 470.1 139.6C475.5 139.8 475.6 140.1 480.9 140.6C486.2 141.1 487.6 141.2 490.0 141.4" fill="none" stroke="#FF1E28" stroke-width="1.6" stroke-linejoin="round" stroke-linecap="butt" />
</g>
<rect x="520.00" y="418.5" width="41.90" height="12.699999999999989" fill="#fff"/>
<rect x="561.60" y="418.5" width="41.90" height="12.699999999999989" fill="#FFE6CC"/>
<rect x="603.20" y="418.5" width="41.90" height="12.699999999999989" fill="#FFC499"/>
<rect x="644.80" y="418.5" width="41.90" height="12.699999999999989" fill="#FFA062"/>
<rect x="686.40" y="418.5" width="41.90" height="12.699999999999989" fill="#FF7F2A"/>
<rect x="520.0" y="418.5" width="208.0" height="12.699999999999989" fill="none" stroke="#000" stroke-width="1.1"/>
<text transform="translate(520.0 440.6) scale(1 1.012)" font-size="8.2" text-anchor="middle" fill="#000" stroke="#000" stroke-width="0.15">0</text>
<text transform="translate(561.6 440.6) scale(1 1.012)" font-size="8.2" text-anchor="middle" fill="#000" stroke="#000" stroke-width="0.15">5</text>
<text transform="translate(603.2 440.6) scale(1 1.012)" font-size="8.2" text-anchor="middle" fill="#000" stroke="#000" stroke-width="0.15">10</text>
<text transform="translate(644.8 440.6) scale(1 1.012)" font-size="8.2" text-anchor="middle" fill="#000" stroke="#000" stroke-width="0.15">15</text>
<text transform="translate(686.4 440.6) scale(1 1.012)" font-size="8.2" text-anchor="middle" fill="#000" stroke="#000" stroke-width="0.15">20</text>
<text transform="translate(728.0 440.6) scale(1 1.012)" font-size="8.2" text-anchor="middle" fill="#000" stroke="#000" stroke-width="0.15">25</text>
</svg>
</body></html>
